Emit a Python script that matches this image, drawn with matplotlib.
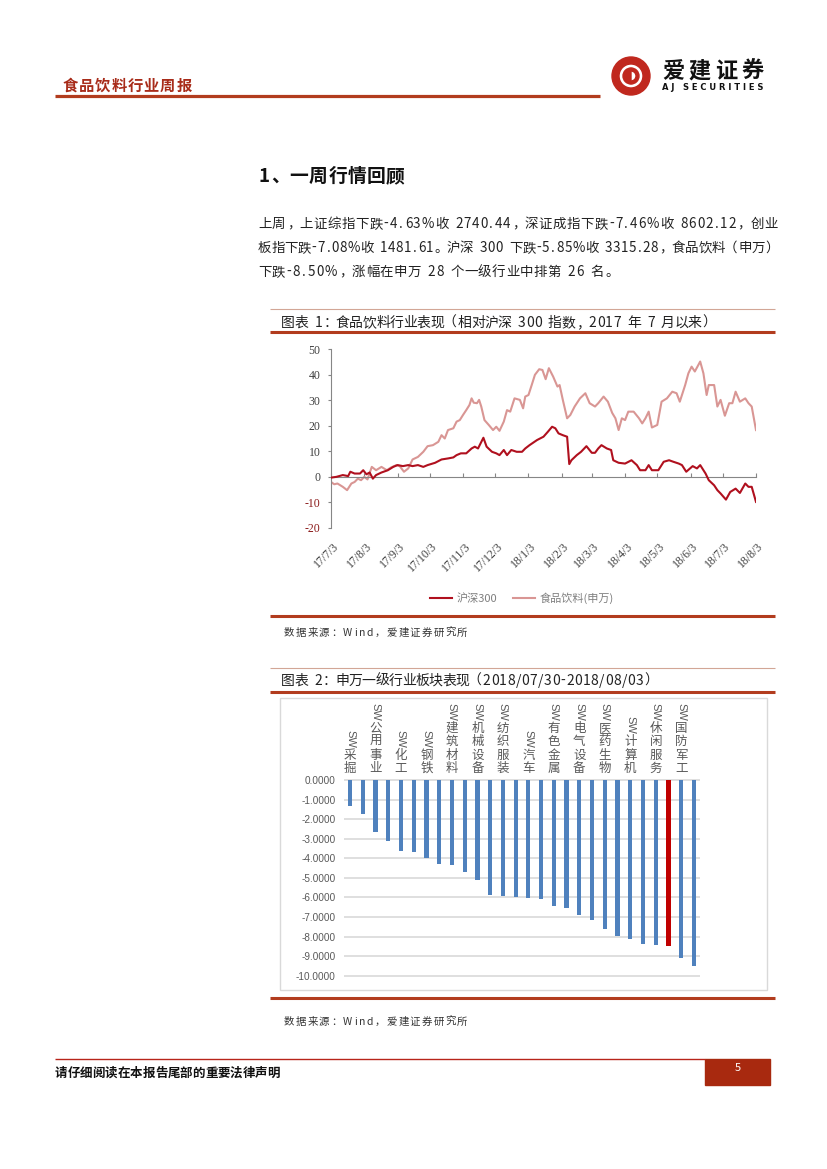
import datetime as dt
import matplotlib
matplotlib.use('Agg')
import matplotlib.pyplot as plt
from matplotlib.patches import Rectangle, Wedge
from matplotlib.font_manager import FontProperties

plt.rcParams['font.family'] = ['Noto Sans CJK SC', 'DejaVu Sans']

# ---------------- data ----------------
start_date = dt.date(2017, 7, 3)
end_date = dt.date(2018, 8, 3)

# 沪深300 cumulative change (%), days since 2017-07-03
hs300_day = [0, 5, 11, 16, 18, 22, 27, 30, 33, 36, 39, 42, 47, 53, 58, 62, 67, 72, 76, 81, 86, 90,
             97, 103, 109, 114, 117, 121, 126, 131, 134, 137, 142, 145, 150, 154, 157, 161, 164,
             168, 173, 178, 181, 185, 192, 198, 202, 206, 209, 212, 216, 220, 222, 224, 229, 233,
             238, 243, 246, 249, 252, 257, 261, 263, 268, 274, 280, 285, 288, 293, 296, 299, 305,
             310, 315, 319, 324, 327, 331, 337, 341, 344, 349, 352, 357, 360, 363, 368, 372, 377,
             381, 386, 389, 392, 396]
hs300_val = [-0.3, 0.0, 0.7, 0.3, 2.0, 1.3, 1.3, 2.6, 1.0, 1.7, -0.7, 0.7, 1.7, 2.6, 3.9, 4.6, 4.2,
             4.6, 4.2, 4.6, 3.9, 4.6, 5.5, 6.8, 7.2, 7.6, 8.5, 9.2, 9.2, 11.1, 11.8, 11.1, 15.3,
             11.8, 9.8, 9.2, 8.5, 10.5, 8.5, 10.5, 9.8, 9.8, 11.1, 12.4, 14.4, 15.7, 17.6, 19.6,
             19.0, 17.0, 16.3, 15.7, 5.0, 6.5, 8.5, 9.8, 12.0, 9.4, 9.4, 11.1, 12.4, 11.1, 10.5,
             6.5, 5.5, 5.2, 6.5, 4.6, 2.6, 2.6, 4.6, 2.6, 2.6, 5.9, 6.5, 5.9, 5.2, 4.6, 2.0, 4.2,
             3.3, 4.6, 1.3, -1.3, -3.3, -5.2, -6.5, -8.9, -5.9, -4.6, -6.3, -2.6, -3.9, -3.9, -9.8]

# 食品饮料(申万) cumulative change (%), days since 2017-07-03
food_day = [0, 3, 6, 11, 15, 19, 22, 25, 28, 31, 34, 38, 42, 47, 52, 56, 61, 64, 68, 72, 76, 81,
            86, 90, 95, 100, 103, 106, 109, 114, 117, 120, 123, 126, 129, 131, 133, 136, 138, 140,
            143, 147, 151, 154, 157, 161, 164, 167, 171, 176, 179, 181, 184, 187, 190, 194, 197,
            200, 203, 207, 211, 213, 216, 220, 223, 227, 232, 237, 241, 246, 249, 254, 258, 262,
            265, 268, 271, 274, 277, 282, 287, 290, 293, 296, 299, 304, 308, 313, 318, 322, 325,
            330, 333, 336, 339, 344, 347, 350, 352, 357, 360, 363, 367, 371, 374, 377, 381, 386,
            389, 392, 396]
food_val = [-2.0, -2.9, -2.6, -3.9, -5.2, -2.6, -2.0, -0.7, -1.3, 0.0, -1.0, 3.9, 2.6, 3.9, 2.6,
            3.7, 4.6, 4.2, 2.0, 3.3, 6.8, 7.8, 9.8, 12.0, 12.4, 13.7, 16.3, 15.0, 18.3, 19.0,
            21.6, 22.2, 24.2, 26.1, 28.1, 30.7, 29.0, 28.8, 30.1, 27.5, 22.2, 20.3, 18.3, 19.6,
            18.0, 21.6, 26.1, 25.5, 30.7, 30.1, 26.8, 31.4, 32.0, 35.9, 39.9, 42.1, 41.8, 38.2,
            42.5, 39.2, 35.3, 35.9, 30.1, 22.9, 24.2, 27.5, 30.7, 32.7, 28.8, 27.5, 28.8, 31.4,
            29.4, 25.0, 22.9, 18.3, 22.9, 22.2, 25.5, 25.5, 22.9, 20.9, 22.9, 25.5, 19.3, 20.3,
            29.4, 30.7, 33.3, 32.7, 29.4, 35.9, 40.5, 43.1, 41.2, 45.1, 40.5, 32.0, 35.9, 35.9,
            27.5, 30.1, 23.9, 28.8, 28.8, 33.3, 29.4, 30.7, 28.8, 27.5, 18.3]

x_tick_dates = [dt.date(2017, m, 3) for m in range(7, 13)] + [dt.date(2018, m, 3) for m in range(1, 9)]
x_tick_labels = ['17/7/3', '17/8/3', '17/9/3', '17/10/3', '17/11/3', '17/12/3', '18/1/3', '18/2/3',
                 '18/3/3', '18/4/3', '18/5/3', '18/6/3', '18/7/3', '18/8/3']
y1_ticks = [-20, -10, 0, 10, 20, 30, 40, 50]
series_names = ['沪深300', '食品饮料(申万)']

industries = ['SW采掘', 'SW银行', 'SW公用事业', 'SW非银金融', 'SW化工', 'SW房地产', 'SW钢铁',
              'SW交通运输', 'SW建筑材料', 'SW建筑装饰', 'SW机械设备', 'SW轻工制造', 'SW纺织服装',
              'SW商业贸易', 'SW汽车', 'SW农林牧渔', 'SW有色金属', 'SW综合', 'SW电气设备',
              'SW家用电器', 'SW医药生物', 'SW电子', 'SW计算机', 'SW传媒', 'SW休闲服务',
              'SW食品饮料', 'SW国防军工', 'SW通信']
changes = [-1.31, -1.72, -2.64, -3.10, -3.61, -3.66, -3.99, -4.28, -4.33, -4.68, -5.09, -5.88,
           -5.91, -5.98, -6.03, -6.06, -6.42, -6.52, -6.90, -7.14, -7.61, -7.96, -8.11, -8.36,
           -8.42, -8.50, -9.08, -9.49]
highlight = 'SW食品饮料'
y2_ticks = [0, -1, -2, -3, -4, -5, -6, -7, -8, -9, -10]

# ---------------- page ----------------
W, H = 827, 1169
fig = plt.figure(figsize=(W / 100, H / 100), dpi=100)
fig.patch.set_facecolor('white')
bg = fig.add_axes([0, 0, 1, 1])
bg.set_xlim(0, W)
bg.set_ylim(H, 0)
bg.axis('off')

ACCENT = '#b23c1e'


def fx(x):
    return x / W


def fy(y):
    return 1 - y / H


def is_wide(c):
    return ord(c) > 0x2E7F


def draw_line(s, x0, yc, fs, target=None, scale=None, color='#222222', weight='normal'):
    em = fs * 100 / 72
    renderer = fig.canvas.get_renderer()
    prop = FontProperties(family=['Noto Sans CJK SC', 'DejaVu Sans'], size=fs, weight=weight)
    advs = []
    for c in s:
        if is_wide(c):
            advs.append(em)
        elif c == ' ':
            advs.append(0.45 * em)
        else:
            w, _, _ = renderer.get_text_width_height_descent(c, prop, ismath=False)
            advs.append(max(w * 1.08, 0.48 * em))
    tot = sum(advs)
    if target is not None:
        scale = target / tot
    elif scale is None:
        scale = 1.0
    yb = yc + 0.36 * em
    x = x0
    kw = dict(fontsize=fs, color=color, fontweight=weight, va='baseline')
    for c, a in zip(s, advs):
        w = a * scale
        if c != ' ':
            if c in '，。：、；':
                bg.text(x + 0.08 * w, yb, c, ha='left', **kw)
            elif c == '（':
                bg.text(x + 0.92 * w, yb, c, ha='right', **kw)
            elif c == '）':
                bg.text(x + 0.08 * w, yb, c, ha='left', **kw)
            else:
                bg.text(x + w / 2, yb, c, ha='center', **kw)
        x += w
    return scale


def hline(x1, x2, y, lw, color):
    bg.plot([x1, x2], [y, y], color=color, lw=lw, solid_capstyle='butt')


# header
draw_line('食品饮料行业周报', 62, 85, 11, target=130, color='#a82c1a', weight='bold')
hline(55, 600, 96, 2.3, ACCENT)
bg.add_patch(Wedge((631, 76), 19, 0, 360, width=7, color='#c0281e'))
bg.add_patch(Wedge((631, 76), 8, 90, 270, color='#c0281e'))
bg.add_patch(Wedge((631, 76), 8, 270, 90, width=3, color='#c0281e'))
draw_line('爱建证券', 660, 70, 16, target=106, color='#111111', weight='bold')
bg.text(713, 88, 'A J   S E C U R I T I E S', fontsize=6, color='#111111', ha='center',
        va='center', family='DejaVu Sans', fontweight='bold')

# section title and paragraph
draw_line('1、一周行情回顾', 258, 175, 13.5, target=147, color='#111111', weight='bold')
body = ['上周，上证综指下跌-4.63%收 2740.44，深证成指下跌-7.46%收 8602.12，创业',
        '板指下跌-7.08%收 1481.61。沪深 300 下跌-5.85%收 3315.28，食品饮料（申万）',
        '下跌-8.50%，涨幅在申万 28 个一级行业中排第 26 名。']
sc1 = draw_line(body[0], 258, 223, 9.7, target=520)
sc2 = draw_line(body[1], 258, 247, 9.7, target=520)
draw_line(body[2], 258, 271, 9.7, scale=max(sc1, sc2))

# chart 1 frame
hline(270, 775, 309, 0.8, '#d2a696')
draw_line('图表 1：食品饮料行业表现（相对沪深 300 指数，2017 年 7 月以来）', 281, 322, 10,
          target=434, color='#222222')
hline(270, 775, 332, 2.2, ACCENT)
hline(270, 775, 616, 2.2, ACCENT)
draw_line('数据来源：Wind，爱建证券研究所', 283, 632, 7.5, target=185, color='#333333')

# chart 2 frame
hline(270, 775, 668, 0.8, '#d2a696')
draw_line('图表 2：申万一级行业板块表现（2018/07/30-2018/08/03）', 281, 680, 10, target=376,
          color='#222222')
hline(270, 775, 692, 2.2, ACCENT)
bg.add_patch(Rectangle((280, 698), 487, 292, fill=False, edgecolor='#d9d9d9', lw=1))
hline(270, 775, 998, 2.2, ACCENT)
draw_line('数据来源：Wind，爱建证券研究所', 283, 1021, 7.5, target=185, color='#333333')

# footer
hline(55, 705, 1059, 1.0, '#b8241a')
bg.add_patch(Rectangle((705, 1059), 65, 26, color='#a8290f'))
bg.text(738, 1068, '5', color='white', fontsize=8, ha='center', va='center')
draw_line('请仔细阅读在本报告尾部的重要法律声明', 55, 1072, 9, target=225, color='#111111',
          weight='bold')

# ---------------- chart 1 ----------------
ax1 = fig.add_axes([fx(331), fy(528), (756 - 331) / W, (528 - 349) / H])
ax1.patch.set_alpha(0)
hs_dates = [start_date + dt.timedelta(days=d) for d in hs300_day]
fd_dates = [start_date + dt.timedelta(days=d) for d in food_day]
l1, = ax1.plot(hs_dates, hs300_val, color='#b0101e', lw=1.5, label=series_names[0], zorder=3)
l2, = ax1.plot(fd_dates, food_val, color='#d99694', lw=1.5, label=series_names[1], zorder=2)
ax1.set_xlim(start_date, end_date)
ax1.set_ylim(-20, 50)
for s in ['top', 'right']:
    ax1.spines[s].set_visible(False)
ax1.spines['left'].set_color('#868686')
ax1.spines['bottom'].set_color('#868686')
ax1.spines['bottom'].set_position(('data', 0))
ax1.set_yticks(y1_ticks)
ax1.set_yticklabels([str(v) for v in y1_ticks])
ax1.tick_params(axis='y', direction='out', length=2.5, color='#868686', labelsize=8.5, pad=5)
for lab, v in zip(ax1.get_yticklabels(), y1_ticks):
    lab.set_fontfamily('Liberation Serif')
    lab.set_color('#8b1a1a' if v < 0 else '#404040')
ax1.set_xticks(x_tick_dates)
ax1.tick_params(axis='x', direction='in', length=3, color='#868686', labelbottom=False)
for d, lab in zip(x_tick_dates, x_tick_labels):
    ax1.annotate(lab, xy=(d, 0), xycoords=('data', 'axes fraction'), xytext=(1, -9),
                 textcoords='offset points', rotation=45, ha='right', va='top',
                 rotation_mode='anchor', fontsize=8.5, color='#404040',
                 family='Liberation Serif', annotation_clip=False)
ax1.legend(handles=[l1, l2], loc='center', bbox_to_anchor=(fx(522), fy(598)),
           bbox_transform=fig.transFigure, ncol=2, frameon=False, fontsize=8,
           handlelength=2.0, handletextpad=0.4, columnspacing=1.4, labelcolor='#7f7f7f')

# ---------------- chart 2 ----------------
ytop, ybot = 780, 975.7
ax2 = fig.add_axes([fx(344), fy(ybot + 1), (700 - 344) / W, (ybot - ytop + 2) / H])
ax2.patch.set_alpha(0)
pad_u = 1 / ((ybot - ytop) / 10)
ax2.set_ylim(-10 - pad_u, 0 + pad_u)
ax2.set_xlim(-0.47, len(industries) - 0.53)
colors = ['#c00000' if n == highlight else '#4f81bd' for n in industries]
ax2.bar(range(len(industries)), changes, width=0.33, color=colors, zorder=3)
for s in ax2.spines.values():
    s.set_visible(False)
ax2.set_yticks(y2_ticks)
ax2.set_yticklabels([f'{v:.4f}'.replace('-0.0000', '0.0000') for v in y2_ticks])
ax2.tick_params(axis='y', length=0, pad=6, labelsize=7.2, labelcolor='#595959')
for lab in ax2.get_yticklabels():
    lab.set_fontfamily('Liberation Sans')
ax2.set_xticks([])
ax2.yaxis.grid(True, color='#d9d9d9', lw=1.2)
ax2.set_axisbelow(True)

step = 9.6
base = 3.6
for i, name in enumerate(industries):
    if i % 2:
        continue
    chars = list(name[2:])
    for k, c in enumerate(reversed(chars)):
        ax2.annotate(c, xy=(i, 0), xycoords='data', xytext=(0, base + step * k + step / 2),
                     textcoords='offset points', ha='center', va='center', fontsize=9,
                     color='#595959', annotation_clip=False)
    ax2.annotate(name[:2], xy=(i, 0), xycoords='data',
                 xytext=(0, base + step * len(chars) + 0.5), textcoords='offset points',
                 ha='center', va='bottom', rotation=-90, fontsize=8, color='#595959',
                 family='Liberation Sans', annotation_clip=False)

fig.savefig('out.png', dpi=100)
